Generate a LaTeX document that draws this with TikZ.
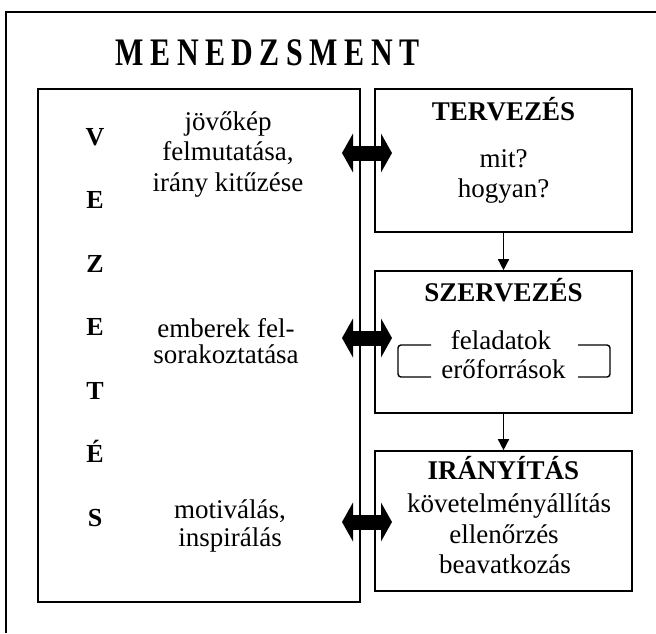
\documentclass[tikz,border=0pt]{standalone}
\usepackage{fontspec}
\setmainfont{Liberation Serif}
\usetikzlibrary{arrows.meta}

\begin{document}
\begin{tikzpicture}[x=1pt, y=-1pt,
    box/.style={draw, line width=1.6pt, inner sep=0pt},
    txt/.style={anchor=base, inner sep=0pt, font=\fontsize{27}{30}\selectfont},
    ttl/.style={anchor=base, inner sep=0pt, font=\fontsize{27}{30}\selectfont\bfseries},
    vlet/.style={anchor=base, inner sep=0pt, font=\fontsize{26}{30}\selectfont\bfseries},
    fat/.style={line width=15pt,
        {Triangle[length=11pt, width=39pt, line width=0pt]}-{Triangle[length=11pt, width=39pt, line width=0pt]}},
    down/.style={line width=1.4pt, -{Triangle[length=11pt, width=11pt]}}]
    \useasboundingbox (0,0) rectangle (656,633);

    % outer frame (cut off at right and bottom)
    \draw[line width=2pt] (656,12) -- (6,12) -- (6,633);

    \node[anchor=base, inner sep=0pt, font=\fontsize{30}{30}\selectfont\bfseries] (title) at (267.5,65)
        {\scalebox{1}[1.3]{\spaceskip=6.5pt\relax M E N E D Z S M E N T}};

    % boxes
    \node[box, minimum width=322pt, minimum height=513pt] (vez) at (199,345.5) {};
    \node[box, minimum width=257pt, minimum height=143pt] (terv) at (503.5,160.5) {};
    \node[box, minimum width=257pt, minimum height=142pt] (szerv) at (503.5,342) {};
    \node[box, minimum width=257pt, minimum height=140pt] (iranyit) at (503.5,521) {};

    % VEZETÉS down the left side
    \foreach \l [count=\i] in {V,E,Z,E,T,É,S}
        \node[vlet] (v\i) at (95,{145+63.5*(\i-1)}) {\l};

    \node[txt] (jov1) at (228,130) {jövőkép};
    \node[txt] (jov2) at (228,160.5) {felmutatása,};
    \node[txt] (jov3) at (228,191) {irány kitűzése};
    \node[txt] (emb1) at (226,337) {emberek fel-};
    \node[txt] (emb2) at (226,363) {sorakoztatása};
    \node[txt] (mot1) at (230,518) {motiválás,};
    \node[txt] (mot2) at (230,546) {inspirálás};

    % right column
    \node[ttl] (tervT) at (503.5,120) {TERVEZÉS};
    \node[txt] (terv1) at (503.5,167) {mit?};
    \node[txt] (terv2) at (503.5,197) {hogyan?};

    \node[ttl] (szervT) at (503.5,301) {SZERVEZÉS};
    \node[txt] (szerv1) at (501,349) {feladatok};
    \node[txt] (szerv2) at (503.5,378) {erőforrások};
    \draw[line width=1.4pt, rounded corners=3pt] (431,345) -- (398,345) -- (398,377) -- (431,377);
    \draw[line width=1.4pt, rounded corners=3pt] (578,345) -- (610,345) -- (610,377) -- (578,377);

    \node[ttl] (iranyitT) at (503.5,479) {IRÁNYÍTÁS};
    \node[txt] (iranyit1) at (509,512) {követelményállítás};
    \node[txt] (iranyit2) at (504,543) {ellenőrzés};
    \node[txt] (iranyit3) at (505,573) {beavatkozás};

    \draw[down] (terv.south) -- (szerv.north);
    \draw[down] (szerv.south) -- (iranyit.north);

    % double arrows between the columns
    \coordinate (a1) at (342,153);
    \coordinate (b1) at (392,153);
    \coordinate (a2) at (342,338);
    \coordinate (b2) at (392,338);
    \coordinate (a3) at (342,522);
    \coordinate (b3) at (392,522);
    \draw[fat] (a1) -- (b1);
    \draw[fat] (a2) -- (b2);
    \draw[fat] (a3) -- (b3);
\end{tikzpicture}
\end{document}
